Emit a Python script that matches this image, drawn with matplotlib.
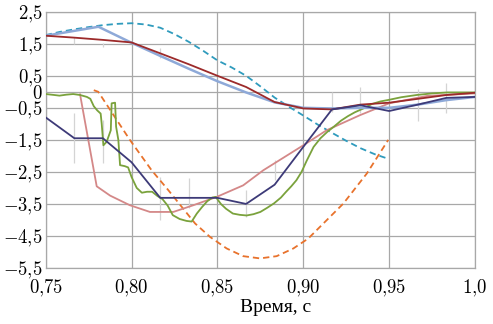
import numpy as np
import matplotlib
matplotlib.use("Agg")
import matplotlib.pyplot as plt

plt.rcParams['font.family'] = ['Liberation Serif', 'DejaVu Serif']
plt.rcParams['mathtext.fontset'] = 'cm'

# node grid shared by most of the model curves (step 1/60 s)
t_nodes = [0.75, 0.7667, 0.7833, 0.80, 0.8167, 0.8333, 0.85, 0.8667,
           0.8833, 0.90, 0.9167, 0.9333, 0.95, 0.9667, 0.9833, 1.0]

red_y = [1.75, 1.69, 1.62, 1.54, 1.2, 0.86, 0.5, 0.15,
         -0.32, -0.52, -0.55, -0.4, -0.34, -0.22, -0.1, -0.03]
navy_y = [-0.8, -1.45, -1.45, -2.2, -3.31, -3.31, -3.31, -3.5,
          -2.9, -1.72, -0.55, -0.42, -0.6, -0.4, -0.19, -0.16]

blue_x = [0.75, 0.7807, 0.80, 0.8167, 0.8333, 0.85, 0.8667, 0.8833,
          0.90, 0.9167, 0.9333, 0.95, 0.9667, 0.9833, 1.0]
blue_y = [1.75, 2.03, 1.53, 1.12, 0.72, 0.33, -0.02, -0.33,
          -0.5, -0.52, -0.5, -0.5, -0.4, -0.26, -0.16]

teal_x = [0.75, 0.7583, 0.7667, 0.775, 0.7833, 0.7917, 0.80, 0.8083, 0.8167,
          0.825, 0.8333, 0.8417, 0.85, 0.8583, 0.8667, 0.875, 0.8833,
          0.8917, 0.90, 0.9083, 0.9167, 0.925, 0.9333, 0.9417, 0.95]
teal_y = [1.77, 1.87, 1.95, 2.02, 2.08, 2.12, 2.14, 2.1, 2.0,
          1.8, 1.56, 1.28, 0.98, 0.76, 0.5, 0.17, -0.18,
          -0.47, -0.74, -1.02, -1.28, -1.53, -1.76, -1.95, -2.1]

orange_x = [0.778, 0.7806, 0.799, 0.8117, 0.8214, 0.8292, 0.837, 0.8457,
            0.8554, 0.865, 0.8748, 0.8845, 0.8942, 0.9029, 0.9233, 0.937, 0.9495]
orange_y = [0.05, 0.0, -1.5, -2.45, -3.07, -3.59, -4.11, -4.53,
            -4.89, -5.13, -5.2, -5.13, -4.89, -4.58, -3.49, -2.55, -1.5]

pink_x = [0.770, 0.7797, 0.7875, 0.799, 0.8107, 0.8243, 0.836, 0.8496,
          0.865, 0.8767, 0.90, 0.9136, 0.933, 0.95, 0.972, 1.0]
pink_y = [-0.08, -2.95, -3.24, -3.54, -3.75, -3.75, -3.54, -3.28,
          -2.92, -2.45, -1.67, -1.2, -0.73, -0.36, -0.13, -0.05]

green_x = [0.750, 0.755, 0.758, 0.762, 0.766, 0.770, 0.774, 0.776, 0.778,
           0.780, 0.782, 0.7826, 0.7836, 0.7855, 0.7879, 0.7884, 0.7904,
           0.791, 0.7923, 0.7933, 0.796, 0.798, 0.800, 0.803, 0.806, 0.809,
           0.812, 0.815, 0.818, 0.821, 0.824, 0.828, 0.832, 0.835, 0.838,
           0.841, 0.844, 0.847, 0.849, 0.852, 0.855, 0.859, 0.863, 0.867,
           0.871, 0.875, 0.879, 0.883, 0.887, 0.890, 0.893, 0.896, 0.899,
           0.902, 0.906, 0.910, 0.914, 0.918, 0.922, 0.926, 0.930, 0.935,
           0.940, 0.945, 0.950, 0.957, 0.966, 0.975, 0.984, 1.000]
green_y = [-0.07, -0.10, -0.12, -0.09, -0.07, -0.10, -0.16, -0.22, -0.45,
           -0.58, -0.68, -0.99, -1.67, -1.56, -1.20, -0.36, -0.34,
           -1.09, -1.50, -2.29, -2.32, -2.36, -2.66, -3.00, -3.15, -3.12,
           -3.12, -3.25, -3.35, -3.55, -3.85, -3.97, -4.03, -4.05, -3.80,
           -3.60, -3.42, -3.30, -3.28, -3.50, -3.65, -3.80, -3.84, -3.86,
           -3.82, -3.75, -3.62, -3.48, -3.30, -3.12, -2.95, -2.76, -2.50,
           -2.15, -1.72, -1.45, -1.25, -1.08, -0.90, -0.76, -0.64, -0.52,
           -0.38, -0.30, -0.25, -0.17, -0.10, -0.05, -0.02, -0.02]

# faint gray whiskers
err_x = [0.7667, 0.7833, 0.8167, 0.8333, 0.8667, 0.8833, 0.9167, 0.9333,
         0.9667, 0.9833, 1.0, 0.7667, 0.7833, 0.8167]
err_lo = [-2.23, -2.23, -4.0, -3.63, -3.9, -2.76, -0.62, -0.67,
          -0.9, -0.67, -0.5, 1.48, 1.41, 1.05]
err_hi = [-0.67, -0.87, -2.67, -2.7, -3.07, -2.13, 0.0, 0.16,
          0.1, 0.26, 0.37, 1.72, 1.53, 1.37]

yticks = [2.5, 1.5, 0.5, 0, -0.5, -1.5, -2.5, -3.5, -4.5, -5.5]
ytick_labels = [r'$2{,}5$', r'$1{,}5$', r'$0{,}5$', r'$0$', r'$-0{,}5$',
                r'$-1{,}5$', r'$-2{,}5$', r'$-3{,}5$', r'$-4{,}5$', r'$-5{,}5$']
xticks = [0.75, 0.80, 0.85, 0.90, 0.95, 1.0]
xtick_labels = [r'$0{,}75$', r'$0{,}80$', r'$0{,}85$', r'$0{,}90$',
                r'$0{,}95$', r'$1{,}0$']

fig = plt.figure(figsize=(4.93, 3.24), dpi=100)
ax = fig.add_axes([0.0927, 0.1728, 0.8708, 0.7911])

ax.vlines(err_x, err_lo, err_hi, colors='#d4d4d4', lw=0.9, zorder=1)

ax.plot(teal_x, teal_y, color='#2f9bbd', lw=1.3, dashes=(3.5, 2.2), zorder=3)
ax.plot(orange_x, orange_y, color='#e8722c', lw=1.3, dashes=(3.5, 2.2), zorder=3)
ax.plot(pink_x, pink_y, color='#d48888', lw=1.3, zorder=3)
ax.plot(green_x, green_y, color='#7aa23c', lw=1.3, zorder=4)
ax.plot(blue_x, blue_y, color='#8ea9d8', lw=1.8, zorder=4)
ax.plot(t_nodes, red_y, color='#9c2a2a', lw=1.3, zorder=5)
ax.plot(t_nodes, navy_y, color='#3d3a78', lw=1.3, zorder=5)

ax.set_xlim(0.75, 1.0)
ax.set_ylim(-5.5, 2.5)
ax.set_xticks(xticks)
ax.set_xticklabels(xtick_labels)
ax.set_yticks(yticks)
ax.set_yticklabels(ytick_labels)
ax.tick_params(length=0, labelsize=13.5, colors='black')
ax.tick_params(axis='y', pad=2)
ax.tick_params(axis='x', pad=7)
ax.grid(True, color='#a8a8a8', lw=0.9)
ax.set_axisbelow(True)
for s in ax.spines.values():
    s.set_color('#a8a8a8')
    s.set_linewidth(0.9)
ax.set_xlabel('Время, с', fontsize=14, labelpad=0)
ax.xaxis.set_label_coords(0.535, -0.12)

fig.savefig('out.png', dpi=100)
